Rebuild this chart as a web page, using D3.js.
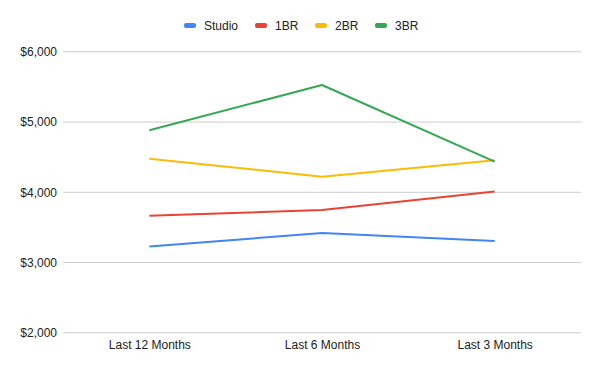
<!DOCTYPE html>
<html>
<head>
<meta charset="utf-8">
<script src="https://cdn.jsdelivr.net/npm/d3@7"></script>
<style>
  body { margin: 0; background: #fff; }
  svg { display: block; font-family: "Liberation Sans", Arial, sans-serif; }
</style>
</head>
<body>
<svg width="600" height="371"></svg>
<script>
var periods = ["Last 12 Months", "Last 6 Months", "Last 3 Months"];
var seriesNames = ["Studio", "1BR", "2BR", "3BR"];
var seriesColors = ["#4285F4", "#EA4335", "#FBBC04", "#34A853"];
var studio = [3220, 3414, 3300];
var oneBR = [3660, 3741, 4004];
var twoBR = [4471, 4215, 4448];
var threeBR = [4875, 5520, 4430];
var yTicks = [2000, 3000, 4000, 5000, 6000];

var series = [studio, oneBR, twoBR, threeBR];

var svg = d3.select("svg"),
  plotLeft = 63, plotRight = 581, plotTop = 51.3, plotBottom = 332.3;

var x = d3.scalePoint()
  .domain(periods)
  .range([plotLeft, plotRight])
  .padding(0.5);

var y = d3.scaleLinear()
  .domain([2000, 6000])
  .range([plotBottom, plotTop]);

// Gridlines + y labels
var yAxis = svg.append("g")
  .attr("transform", "translate(" + plotLeft + ",0)")
  .call(d3.axisLeft(y)
    .tickValues(yTicks)
    .tickSize(-(plotRight - plotLeft))
    .tickPadding(6)
    .tickFormat(function(d) { return "$" + d3.format(",")(d); }));
yAxis.select(".domain").remove();
yAxis.selectAll(".tick line").attr("stroke", "#cccccc").attr("stroke-width", 1);
yAxis.selectAll(".tick text")
  .attr("fill", "#222")
  .style("font-size", "12px")
  .attr("dy", "0.35em");

// x labels
var xAxis = svg.append("g")
  .attr("transform", "translate(0," + plotBottom + ")")
  .call(d3.axisBottom(x).tickSize(0).tickPadding(8));
xAxis.select(".domain").remove();
xAxis.selectAll(".tick text")
  .attr("fill", "#222")
  .style("font-size", "12px");

// Lines
var line = d3.line()
  .x(function(d, i) { return x(periods[i]); })
  .y(function(d) { return y(d); });

svg.append("g")
  .selectAll("path")
  .data(series)
  .enter().append("path")
    .attr("d", line)
    .attr("fill", "none")
    .attr("stroke", function(d, i) { return seriesColors[i]; })
    .attr("stroke-width", 2)
    .attr("stroke-linejoin", "round");

// Legend
var legendX = [184, 255, 315, 375];
var legend = svg.append("g")
  .selectAll("g")
  .data(seriesNames)
  .enter().append("g")
    .attr("transform", function(d, i) { return "translate(" + legendX[i] + ",25.5)"; });

legend.append("rect")
  .attr("x", 0)
  .attr("y", -2.5)
  .attr("width", 12)
  .attr("height", 5)
  .attr("rx", 2)
  .attr("fill", function(d, i) { return seriesColors[i]; });

legend.append("text")
  .attr("x", 20)
  .attr("dy", "0.35em")
  .attr("fill", "#222")
  .style("font-size", "12px")
  .text(function(d) { return d; });
</script>
</body>
</html>
